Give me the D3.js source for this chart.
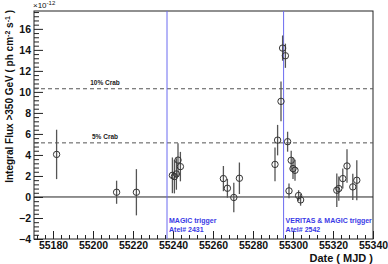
<!DOCTYPE html>
<html>
<head>
<meta charset="utf-8">
<script src="https://cdn.jsdelivr.net/npm/d3@7"></script>
<style>
  body { margin: 0; background: #fff; }
  text { font-family: "Liberation Sans", Arial, sans-serif; }
</style>
</head>
<body>
<div class="chart"></div>
<script>
// light curve, flux in units of 1e-12 ph cm^-2 s^-1
var mjd = [55181.8, 55211.8, 55221.7, 55239.7, 55240.7, 55241.7, 55242.5, 55243.7,
  55265.2, 55267.2, 55270.4, 55273.2, 55291.0, 55292.3, 55294.0, 55294.8, 55296.2,
  55297.3, 55298.0, 55299.1, 55300.0, 55301.0, 55302.8, 55303.8, 55321.9, 55322.9,
  55324.9, 55327.0, 55329.9, 55331.9];
var flux = [4.05, 0.45, 0.45, 2.06, 1.94, 2.19, 3.51, 2.89,
  1.75, 0.83, -0.05, 1.78, 3.1, 5.41, 9.1, 14.17, 13.44,
  5.26, 0.58, 3.49, 2.7, 2.54, 0.14, -0.28, 0.64, 0.8,
  1.75, 2.95, 0.96, 1.59];
var fluxErr = [2.35, 1.1, 2.2, 1.7, 1.6, 1.5, 1.6, 1.4,
  1.2, 0.9, 1.4, 1.5, 1.6, 1.45, 1.9, 1.2, 1.15,
  0.95, 0.7, 0.9, 1.0, 1.0, 0.5, 0.55, 1.6, 1.15,
  0.95, 1.6, 1.25, 1.9];

var crabNames = ['10% Crab', '5% Crab'];
var crabFlux = [10.3, 5.15];

var triggerMjd = [55237.0, 55295.3];
var triggerText = [['MAGIC trigger', 'Atel# 2431'], ['VERITAS & MAGIC trigger', 'Atel# 2542']];

var xTicks = [55180, 55200, 55220, 55240, 55260, 55280, 55300, 55320, 55340];
var yTicks = [-4, -2, 0, 2, 4, 6, 8, 10, 12, 14, 16];

var data = mjd.map((d, i) => ({ mjd: d, flux: flux[i], err: fluxErr[i] }));

var margin = { top: 11, right: 15, bottom: 25, left: 34 };
var width = 388 - margin.left - margin.right;
var height = 264 - margin.top - margin.bottom;

var svg = d3.select('.chart')
  .append('svg')
    .attr('width', 388)
    .attr('height', 264)
  .append('g')
    .attr('transform', `translate(${margin.left}, ${margin.top})`);

var xScale = d3.scaleLinear()
  .domain([55170.5, 55340])
  .range([0, width]);

var yScale = d3.scaleLinear()
  .domain([-4, 17.7])
  .range([height, 0]);

// frame
svg.append('rect')
  .attr('width', width)
  .attr('height', height)
  .attr('fill', 'none')
  .attr('stroke', '#222')
  .attr('stroke-width', 1);

// x axis, ticks inside
var xAxis = svg.append('g')
  .attr('transform', `translate(0, ${height})`)
  .call(d3.axisBottom(xScale).tickValues(xTicks).tickFormat(d3.format('d')).tickSizeInner(-8).tickSizeOuter(0).tickPadding(3));
xAxis.selectAll('.tick text').style('font-size', '10.5px').style('font-weight', 'bold').attr('fill', '#111').attr('dy', '0.71em');
xAxis.select('.domain').remove();
svg.append('g')
  .attr('transform', `translate(0, ${height})`)
  .call(d3.axisBottom(xScale).tickValues(d3.range(55172, 55341, 4).filter(d => d % 20)).tickFormat('').tickSizeInner(-4).tickSizeOuter(0))
  .select('.domain').remove();

// y axis, ticks inside
var yAxis = svg.append('g')
  .call(d3.axisLeft(yScale).tickValues(yTicks).tickFormat(d3.format('d')).tickSizeInner(-9).tickSizeOuter(0).tickPadding(3));
yAxis.selectAll('.tick text').style('font-size', '10.5px').style('font-weight', 'bold').attr('fill', '#111');
yAxis.select('.domain').remove();
svg.append('g')
  .call(d3.axisLeft(yScale).tickValues(d3.range(-3.6, 17.7, 0.4).filter(d => Math.abs(d / 2 - Math.round(d / 2)) > 0.01)).tickFormat('').tickSizeInner(-5).tickSizeOuter(0))
  .select('.domain').remove();
svg.selectAll('.tick line').attr('stroke', '#222');

// exponent
var expo = svg.append('text')
  .attr('x', -1)
  .attr('y', -3)
  .style('font-size', '8px')
  .attr('fill', '#111');
expo.append('tspan').text('\u00d710');
expo.append('tspan').attr('dy', -3).style('font-size', '6px').text('-12');

// zero line
svg.append('line')
  .attr('x1', 0).attr('x2', width)
  .attr('y1', yScale(0)).attr('y2', yScale(0))
  .attr('stroke', '#222');

// crab levels
crabFlux.forEach((f, i) => {
  svg.append('line')
    .attr('x1', 0).attr('x2', width)
    .attr('y1', yScale(f)).attr('y2', yScale(f))
    .attr('stroke', '#555')
    .attr('stroke-dasharray', '4,3');
  svg.append('text')
    .attr('x', xScale(55206))
    .attr('y', yScale(f) - 4)
    .attr('text-anchor', 'middle')
    .style('font-size', '6.5px')
    .style('font-weight', 'bold')
    .attr('fill', '#222')
    .text(crabNames[i]);
});

// trigger lines
triggerMjd.forEach((t, i) => {
  svg.append('line')
    .attr('x1', xScale(t)).attr('x2', xScale(t))
    .attr('y1', 0).attr('y2', height)
    .attr('stroke', '#6a6af0');
  triggerText[i].forEach((s, j) => {
    svg.append('text')
      .attr('x', xScale(t) + 2)
      .attr('y', yScale(-2.5) + j * 8.5)
      .style('font-size', '7px')
      .style('font-weight', 'bold')
      .attr('fill', '#3a3ae6')
      .text(s);
  });
});

// error bars
svg.selectAll('line.err')
  .data(data)
  .enter()
  .append('line')
    .attr('class', 'err')
    .attr('x1', d => xScale(d.mjd))
    .attr('x2', d => xScale(d.mjd))
    .attr('y1', d => yScale(d.flux + d.err))
    .attr('y2', d => yScale(d.flux - d.err))
    .attr('stroke', '#555')
    .attr('stroke-width', 1.3);

svg.selectAll('circle')
  .data(data)
  .enter()
  .append('circle')
    .attr('cx', d => xScale(d.mjd))
    .attr('cy', d => yScale(d.flux))
    .attr('r', 3.2)
    .attr('fill', 'none')
    .attr('stroke', '#333')
    .attr('stroke-width', 1);

// axis titles
svg.append('text')
  .attr('x', width)
  .attr('y', height + 23)
  .attr('text-anchor', 'end')
  .style('font-size', '11px')
  .style('font-weight', 'bold')
  .attr('fill', '#111')
  .text('Date ( MJD )');

var ytitle = svg.append('text')
  .attr('transform', `translate(${13 - margin.left}, -1) rotate(-90)`)
  .attr('text-anchor', 'end')
  .style('font-size', '10px')
  .style('font-weight', 'bold')
  .attr('fill', '#111');
ytitle.append('tspan').text('Integral Flux >350 GeV ( ph cm');
ytitle.append('tspan').attr('dy', -3).style('font-size', '7px').text('-2');
ytitle.append('tspan').attr('dy', 3).text(' s');
ytitle.append('tspan').attr('dy', -3).style('font-size', '7px').text('-1');
ytitle.append('tspan').attr('dy', 3).text(' )');
</script>
</body>
</html>
